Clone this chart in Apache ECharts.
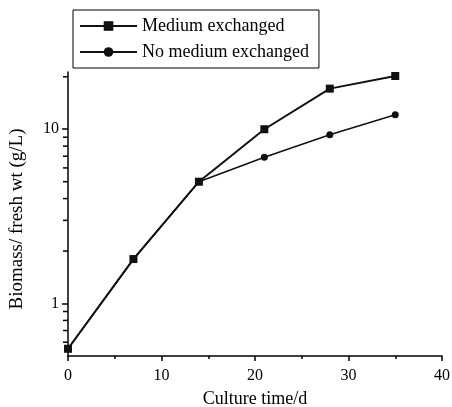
<!DOCTYPE html>
<html>
<head>
<meta charset="utf-8">
<script src="https://cdn.jsdelivr.net/npm/echarts@6/dist/echarts.min.js"></script>
<style>
	html, body { margin: 0; padding: 0; background: #fff; }
	#chart { width: 452px; height: 407px; }
</style>
</head>
<body>
<div id="chart"></div>
<script>
// culture time (d)
var days = [0, 7, 14, 21, 28, 35];
// biomass fresh wt (g/L)
var mediumExchanged = [0.55, 1.8, 5, 10, 17.1, 20.2];
var noMediumExchanged = [0.55, 1.8, 5, 6.9, 9.3, 12.1];
// minor ticks on the log axis
var yMinorTicks = [0.6, 0.7, 0.8, 0.9, 2, 3, 4, 5, 6, 7, 8, 9, 20];

(function () {
	let myChart = echarts.init(document.getElementById('chart'));
	let font = 'Liberation Serif';
	let pairs = function (ys) {
		return days.map(function (d, i) { return [d, ys[i]]; });
	};
	let option = {
		animation: false,
		textStyle: { fontFamily: font, color: '#000' },
		legend: {
			left: 73,
			top: 10,
			orient: 'vertical',
			padding: [7, 10, 7, 6],
			itemGap: 8,
			itemWidth: 57,
			itemHeight: 12,
			borderColor: '#000',
			borderWidth: 1,
			textStyle: { fontFamily: font, fontSize: 18, color: '#000' },
			data: ['Medium exchanged', 'No medium exchanged']
		},
		grid: {
			left: 68,
			right: 10,
			top: 72,
			bottom: 51,
			containLabel: false,
			outerBoundsMode: 'none'
		},
		xAxis: {
			type: 'value',
			min: 0,
			max: 40,
			interval: 10,
			name: 'Culture time/d',
			nameLocation: 'middle',
			nameGap: 34,
			nameTextStyle: { fontFamily: font, fontSize: 18, color: '#000' },
			axisLine: { lineStyle: { color: '#000', width: 1.5 } },
			axisTick: { inside: false, length: 5, lineStyle: { color: '#000', width: 1.5 } },
			minorTick: { show: true, splitNumber: 2, length: 3, lineStyle: { color: '#000', width: 1.5 } },
			axisLabel: { fontFamily: font, fontSize: 16, color: '#000', margin: 12 },
			splitLine: { show: false }
		},
		yAxis: {
			type: 'log',
			logBase: 10,
			min: 0.5,
			max: 21.3,
			name: 'Biomass/ fresh wt (g/L)',
			nameLocation: 'middle',
			nameGap: 41,
			nameTextStyle: { fontFamily: font, fontSize: 19, color: '#000', padding: [0, 10, 0, 0] },
			axisLine: { lineStyle: { color: '#000', width: 1.5 } },
			axisTick: { inside: false, length: 6, lineStyle: { color: '#000', width: 1.5 } },
			axisLabel: {
				fontFamily: font,
				fontSize: 16,
				color: '#000',
				margin: 9,
				showMinLabel: false,
				showMaxLabel: false
			},
			splitLine: { show: false }
		},
		series: [
			{
				name: 'No medium exchanged',
				type: 'line',
				symbol: 'circle',
				symbolSize: 7,
				lineStyle: { color: '#111', width: 1.5 },
				itemStyle: { color: '#111' },
				data: pairs(noMediumExchanged),
				z: 2
			},
			{
				name: 'Medium exchanged',
				type: 'line',
				symbol: 'rect',
				symbolSize: 8,
				lineStyle: { color: '#111', width: 2 },
				itemStyle: { color: '#111' },
				data: pairs(mediumExchanged),
				z: 3
			},
			{
				// 对数轴的次刻度
				name: 'minor',
				type: 'custom',
				silent: true,
				clip: false,
				data: yMinorTicks.map(function (v) { return [0, v]; }),
				encode: { x: 0, y: 1 },
				renderItem: function (params, api) {
					let p = api.coord([0, api.value(1)]);
					return {
						type: 'line',
						shape: { x1: p[0] - 5, y1: p[1], x2: p[0], y2: p[1] },
						style: { stroke: '#000', lineWidth: 1.5 }
					};
				},
				z: 5
			}
		]
	};
	myChart.setOption(option);
})();
</script>
</body>
</html>
